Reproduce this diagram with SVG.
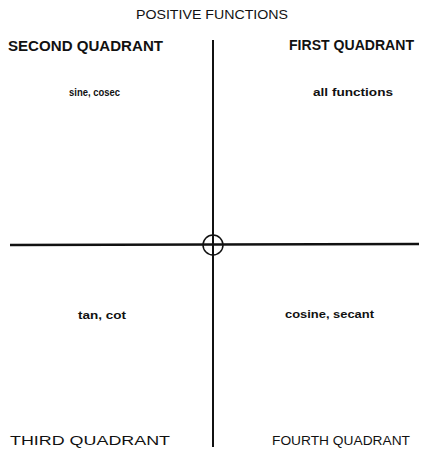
<svg xmlns="http://www.w3.org/2000/svg" width="421" height="453" viewBox="0 0 421 453">
<style>
text{font-family:"Liberation Sans",Arial,sans-serif;fill:#111;}
.q{font-size:14px;font-weight:bold;}
.ql{font-size:12.5px;}
.f{font-size:10.5px;font-weight:bold;}
.t{font-size:12px;}
.ax{stroke:#111;fill:none;}
</style>
<rect width="421" height="453" fill="#fff"/>
<g id="connectors">
<line class="ax" x1="213" y1="40" x2="213" y2="447" stroke-width="2"/>
<line class="ax" x1="10" y1="245" x2="419" y2="244" stroke-width="2.5"/>
<circle class="ax" cx="213" cy="245" r="10" stroke-width="1.5"/>
</g>
<g id="title"><text class="t" x="212" y="19" text-anchor="middle" textLength="152" lengthAdjust="spacingAndGlyphs">POSITIVE FUNCTIONS</text></g>
<g id="q2"><text class="q" x="8" y="51" textLength="155" lengthAdjust="spacingAndGlyphs">SECOND QUADRANT</text><text class="f" x="69" y="96" textLength="51" lengthAdjust="spacingAndGlyphs">sine, cosec</text></g>
<g id="q1"><text class="q" x="289" y="50" textLength="125" lengthAdjust="spacingAndGlyphs">FIRST QUADRANT</text><text class="f" x="313" y="96" textLength="80" lengthAdjust="spacingAndGlyphs">all functions</text></g>
<g id="q3"><text class="f" x="78" y="319" textLength="48" lengthAdjust="spacingAndGlyphs">tan, cot</text><text class="ql" x="10" y="445" textLength="160" lengthAdjust="spacingAndGlyphs">THIRD QUADRANT</text></g>
<g id="q4"><text class="f" x="285" y="318" textLength="89" lengthAdjust="spacingAndGlyphs">cosine, secant</text><text class="ql" x="272" y="445" textLength="138" lengthAdjust="spacingAndGlyphs">FOURTH QUADRANT</text></g>
</svg>
